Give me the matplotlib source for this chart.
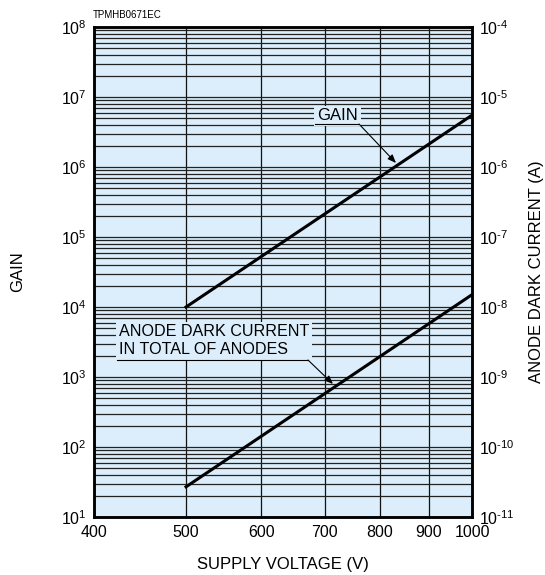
import matplotlib
matplotlib.use("Agg")
import matplotlib.pyplot as plt
from matplotlib.ticker import LogLocator, NullFormatter, NullLocator, FixedLocator, FixedFormatter
from matplotlib.lines import Line2D

plt.rcParams['font.family'] = ['Liberation Sans', 'DejaVu Sans']
plt.rcParams['mathtext.fontset'] = 'custom'
plt.rcParams['mathtext.rm'] = 'Liberation Sans'
plt.rcParams['mathtext.it'] = 'Liberation Sans'
plt.rcParams['mathtext.default'] = 'regular'

# Data
voltage = [500, 1000]
gain = [1.0e4, 5.5e6]
dark_current = [2.7e-11, 1.5e-8]
x_ticks = [400, 500, 600, 700, 800, 900, 1000]
x_labels = ['400', '500', '600', '700', '800', '900', '1000']
left_exps = [1, 2, 3, 4, 5, 6, 7, 8]
right_exps = [-11, -10, -9, -8, -7, -6, -5, -4]

BG = '#DCEEFB'
fig = plt.figure(figsize=(5.45, 5.75), dpi=100)
ax = fig.add_axes([94/545, 58/575, 378/545, 490/575])
ax.set_facecolor(BG)
ax.set_xscale('log')
ax.set_yscale('log')
ax.set_xlim(400, 1000)
ax.set_ylim(1e1, 1e8)

ax.xaxis.set_major_locator(FixedLocator(x_ticks))
ax.xaxis.set_major_formatter(FixedFormatter(x_labels))
ax.xaxis.set_minor_locator(NullLocator())
ax.xaxis.set_minor_formatter(NullFormatter())

ax.yaxis.set_major_locator(FixedLocator([10.0**e for e in left_exps]))
ax.yaxis.set_major_formatter(FixedFormatter([r'$10^{%d}$' % e for e in left_exps]))
ax.yaxis.set_minor_locator(LogLocator(base=10, subs=range(2, 10), numticks=100))
ax.yaxis.set_minor_formatter(NullFormatter())

ax.grid(True, which='major', axis='x', color='#111111', lw=0.9)
ax.grid(True, which='both', axis='y', color='#222222', lw=0.9)
ax.tick_params(which='both', length=0, labelsize=11.5, pad=5)
ax.tick_params(axis='x', pad=6)
for s in ax.spines.values():
    s.set_linewidth(1.8)
    s.set_color('black')

ax.plot(voltage, gain, color='black', lw=2.2, zorder=5)

ax2 = ax.twinx()
ax2.set_yscale('log')
ax2.set_ylim(1e-11, 1e-4)
ax2.yaxis.set_major_locator(FixedLocator([10.0**e for e in right_exps]))
ax2.yaxis.set_major_formatter(FixedFormatter([r'$10^{\text{-}%d}$' % abs(e) for e in right_exps]))
ax2.yaxis.set_minor_locator(NullLocator())
ax2.tick_params(which='both', length=0, labelsize=11.5, pad=5)
ax2.patch.set_visible(False)
for s in ax2.spines.values():
    s.set_linewidth(1.8)
ax2.plot(voltage, dark_current, color='black', lw=2.2, zorder=5)

def fx(px):
    return (px - 94) / 378
def fy(py):
    return (517 - py) / 490

ax.set_ylabel('GAIN', fontsize=12, va='center', ha='center')
ax.yaxis.set_label_coords(fx(18), fy(272))
ax.set_xlabel('SUPPLY VOLTAGE (V)', fontsize=12, va='center', ha='center')
ax.xaxis.set_label_coords(fx(283), fy(565))
ax2.set_ylabel('ANODE DARK CURRENT (A)', fontsize=12, va='center', ha='center')
ax2.yaxis.set_label_coords(fx(536), fy(272))

fig.text(93/545, 1 - 15/575, 'TPMHB0671EC', fontsize=7, ha='left', va='center')

bbox = dict(facecolor=BG, edgecolor='none', pad=2)
ax2.text(fx(317), fy(116), 'GAIN', transform=ax2.transAxes, fontsize=12,
         ha='left', va='center', bbox=bbox, zorder=6)
ax2.add_line(Line2D([fx(315), fx(359)], [fy(124), fy(124)], transform=ax2.transAxes,
                    color='black', lw=0.8, zorder=7))
ax2.annotate('', xy=(fx(396), fy(163)), xytext=(fx(359), fy(124)),
             xycoords='axes fraction', textcoords='axes fraction',
             arrowprops=dict(arrowstyle='-|>,head_length=0.5,head_width=0.2',
                             color='black', lw=0.8, shrinkA=0, shrinkB=0), zorder=7)

ax2.text(fx(119), fy(341), 'ANODE DARK CURRENT\nIN TOTAL OF ANODES', transform=ax2.transAxes,
         fontsize=11.6, ha='left', va='center', linespacing=1.25, bbox=bbox, zorder=6)
ax2.add_line(Line2D([fx(117), fx(308)], [fy(360), fy(360)], transform=ax2.transAxes,
                    color='black', lw=0.8, zorder=7))
ax2.annotate('', xy=(fx(333), fy(384)), xytext=(fx(308), fy(360)),
             xycoords='axes fraction', textcoords='axes fraction',
             arrowprops=dict(arrowstyle='-|>,head_length=0.5,head_width=0.2',
                             color='black', lw=0.8, shrinkA=0, shrinkB=0), zorder=7)

fig.savefig('out.png', dpi=100)
